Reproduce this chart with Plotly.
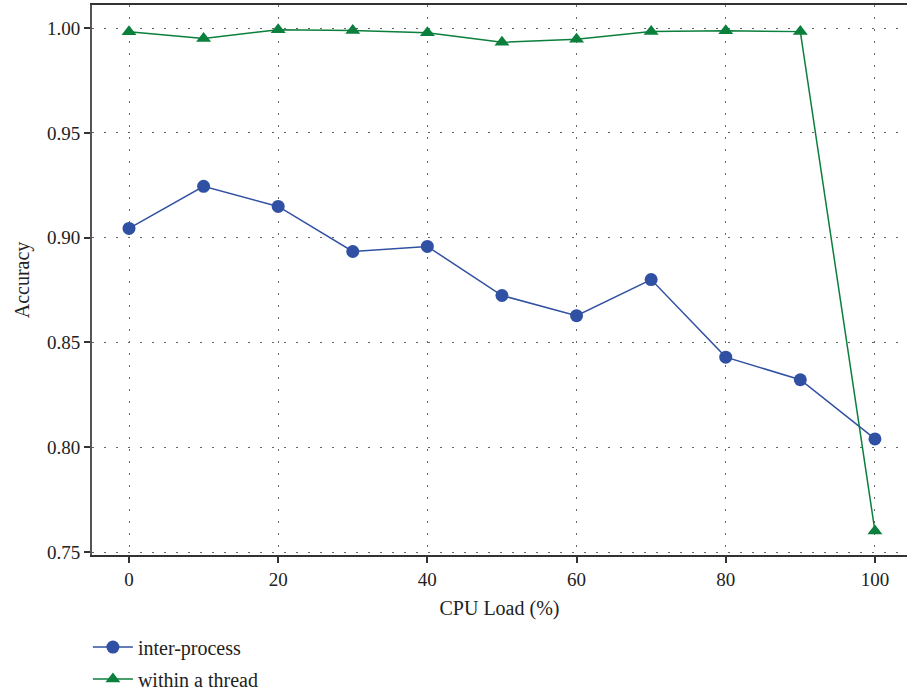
import plotly.graph_objects as go

cpu_load = [0, 10, 20, 30, 40, 50, 60, 70, 80, 90, 100]
inter_process = [0.9044, 0.9245, 0.9149, 0.8934, 0.8958, 0.8724, 0.8628, 0.8800, 0.8430, 0.8322, 0.8040]
within_thread = [0.9982, 0.9950, 0.9992, 0.9988, 0.9978, 0.9932, 0.9947, 0.9983, 0.9987, 0.9983, 0.7600]
x_ticks = [0, 20, 40, 60, 80, 100]
y_ticks = [0.75, 0.80, 0.85, 0.90, 0.95, 1.00]

FONT = "Liberation Serif"
blue = "#3050A3"
green = "#0B7F3C"

fig = go.Figure()
fig.add_trace(go.Scatter(
    x=cpu_load, y=inter_process, mode="lines+markers", name="inter-process",
    line=dict(color=blue, width=1.5), marker=dict(symbol="circle", size=13, color=blue),
    legendgroup="a",
))
fig.add_trace(go.Scatter(
    x=cpu_load, y=within_thread, mode="lines+markers", name="within a thread",
    line=dict(color=green, width=1.5), marker=dict(symbol="triangle-up", size=13, color=green),
    legendgroup="b",
))

fig.update_layout(
    width=907, height=694,
    margin=dict(l=92, r=0, t=5, b=139, autoexpand=False),
    paper_bgcolor="white", plot_bgcolor="white",
    font=dict(family=FONT, size=19, color="#222"),
    showlegend=True,
    legend=dict(x=-0.005, xanchor="left", y=-0.132, yanchor="top", orientation="v",
                font=dict(family=FONT, size=20, color="#222"), tracegroupgap=3,
                itemwidth=40, bgcolor="rgba(0,0,0,0)"),
    xaxis=dict(
        range=[-4.96, 104.3], tickvals=x_ticks, ticks="outside", ticklen=6, tickwidth=1.5,
        tickcolor="#333", showline=True, linecolor="#333", linewidth=2, mirror=True,
        showgrid=True, gridcolor="#666", griddash="2px,10px", gridwidth=1.3, zeroline=False,
        title=dict(text="CPU Load (%)", font=dict(family=FONT, size=20), standoff=12),
        tickfont=dict(family=FONT, size=19),
    ),
    yaxis=dict(
        range=[0.7486, 1.011], tickvals=y_ticks, tickformat=".2f", ticks="outside", ticklen=6,
        tickwidth=1.5, tickcolor="#333", showline=True, linecolor="#555", linewidth=2,
        showgrid=True, gridcolor="#666", griddash="2px,10px", gridwidth=1.3, zeroline=False,
        title=dict(text="Accuracy", font=dict(family=FONT, size=20), standoff=12),
        tickfont=dict(family=FONT, size=19),
    ),
)

fig.write_html("out.html")
